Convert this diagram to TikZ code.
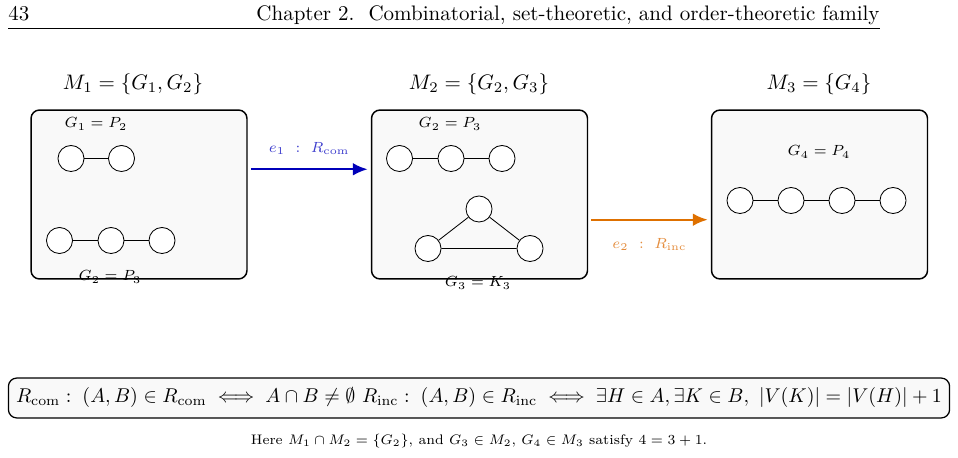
\documentclass[tikz,border=0pt]{standalone}
\usetikzlibrary{arrows.meta,positioning}
\definecolor{comblue}{RGB}{0,0,185}
\definecolor{comtext}{RGB}{60,60,205}
\definecolor{incorange}{RGB}{222,112,0}
\definecolor{inctext}{RGB}{228,140,60}
\definecolor{boxgray}{gray}{0.975}
\tikzset{
	vtx/.style={circle, draw, fill=white, minimum size=12.4pt, inner sep=0pt},
	setbox/.style={draw, line width=0.7pt, rounded corners=4pt, fill=boxgray, minimum width=102.8pt, minimum height=80.4pt},
	glabel/.style={font=\scriptsize, inner sep=0pt},
	rel/.style={line width=1pt, -{Latex[length=7pt,width=6pt]}, shorten <=1.5pt, shorten >=1.5pt},
}
\begin{document}
\begin{tikzpicture}[x=0.476pt, y=-0.476pt]
	\useasboundingbox (0,0) rectangle (958,458);
	% running head
	\node [anchor=base west, inner sep=0pt] (page) at (8,21) {43};
	\node [anchor=base east, inner sep=0pt] (head) at (880,21) {Chapter 2.\ \ Combinatorial, set-theoretic, and order-theoretic family};
	\draw [line width=0.4pt] (8,28) -- (880,28);

	% the three families
	\node [setbox] (m1) at (139,194.5) {};
	\node [setbox] (m2) at (479.5,194.5) {};
	\node [setbox] (m3) at (819.5,194.5) {};
	\node (m1lab) at (133,84) {$M_1 = \{G_1, G_2\}$};
	\node (m2lab) at (479,84) {$M_2 = \{G_2, G_3\}$};
	\node (m3lab) at (819,84) {$M_3 = \{G_4\}$};

	% M1
	\node [glabel] (g1lab) at (96,124) {$G_1 = P_2$};
	\node [vtx] (a1) at (71,158.5) {};
	\node [vtx] (a2) at (121.5,158.5) {};
	\draw (a1) -- (a2);
	\node [vtx] (b1) at (59.5,240.5) {};
	\node [vtx] (b2) at (111,240.5) {};
	\node [vtx] (b3) at (162,240.5) {};
	\draw (b1) -- (b2) -- (b3);
	\node [glabel] (g2lab) at (110,277) {$G_2 = P_3$};

	% M2
	\node [glabel] (g2lab') at (450,124) {$G_2 = P_3$};
	\node [vtx] (c1) at (399.5,158.5) {};
	\node [vtx] (c2) at (451,158.5) {};
	\node [vtx] (c3) at (502,158.5) {};
	\draw (c1) -- (c2) -- (c3);
	\node [vtx] (k1) at (479,209) {};
	\node [vtx] (k2) at (428,248.5) {};
	\node [vtx] (k3) at (530,248.5) {};
	\draw (k1) -- (k2) -- (k3) -- (k1);
	\node [glabel] (g3lab) at (478,283) {$G_3 = K_3$};

	% M3
	\node [glabel] (g4lab) at (819,152) {$G_4 = P_4$};
	\node [vtx] (d1) at (740,200.5) {};
	\node [vtx] (d2) at (791,200.5) {};
	\node [vtx] (d3) at (842,200.5) {};
	\node [vtx] (d4) at (893,200.5) {};
	\draw (d1) -- (d2) -- (d3) -- (d4);

	% relations
	\draw [rel, comblue] ([yshift=12pt]m1.east) -- node [above=3pt, font=\scriptsize, text=comtext] {$e_1\ :\ R_{\mathrm{com}}$} ([yshift=12pt]m2.west);
	\draw [rel, incorange] ([yshift=-12pt]m2.east) -- node [below=5pt, font=\scriptsize, text=inctext] {$e_2\ :\ R_{\mathrm{inc}}$} ([yshift=-12pt]m3.west);

	% definitions
	\node [draw, line width=0.6pt, rounded corners=4pt, fill=boxgray, minimum width=448pt, minimum height=19pt] (defs) at (479,398) {\scalebox{0.95}{$R_{\mathrm{com}}:\; (A,B) \in R_{\mathrm{com}} \iff A \cap B \neq \emptyset$ $R_{\mathrm{inc}}:\; (A,B) \in R_{\mathrm{inc}} \iff \exists H \in A, \exists K \in B,\ |V(K)| = |V(H)| + 1$}};
	\node [font=\scriptsize] (note) at (479,441) {\scalebox{0.94}{Here $M_1 \cap M_2 = \{G_2\}$, and $G_3 \in M_2$, $G_4 \in M_3$ satisfy $4 = 3 + 1$.}};
\end{tikzpicture}
\end{document}
